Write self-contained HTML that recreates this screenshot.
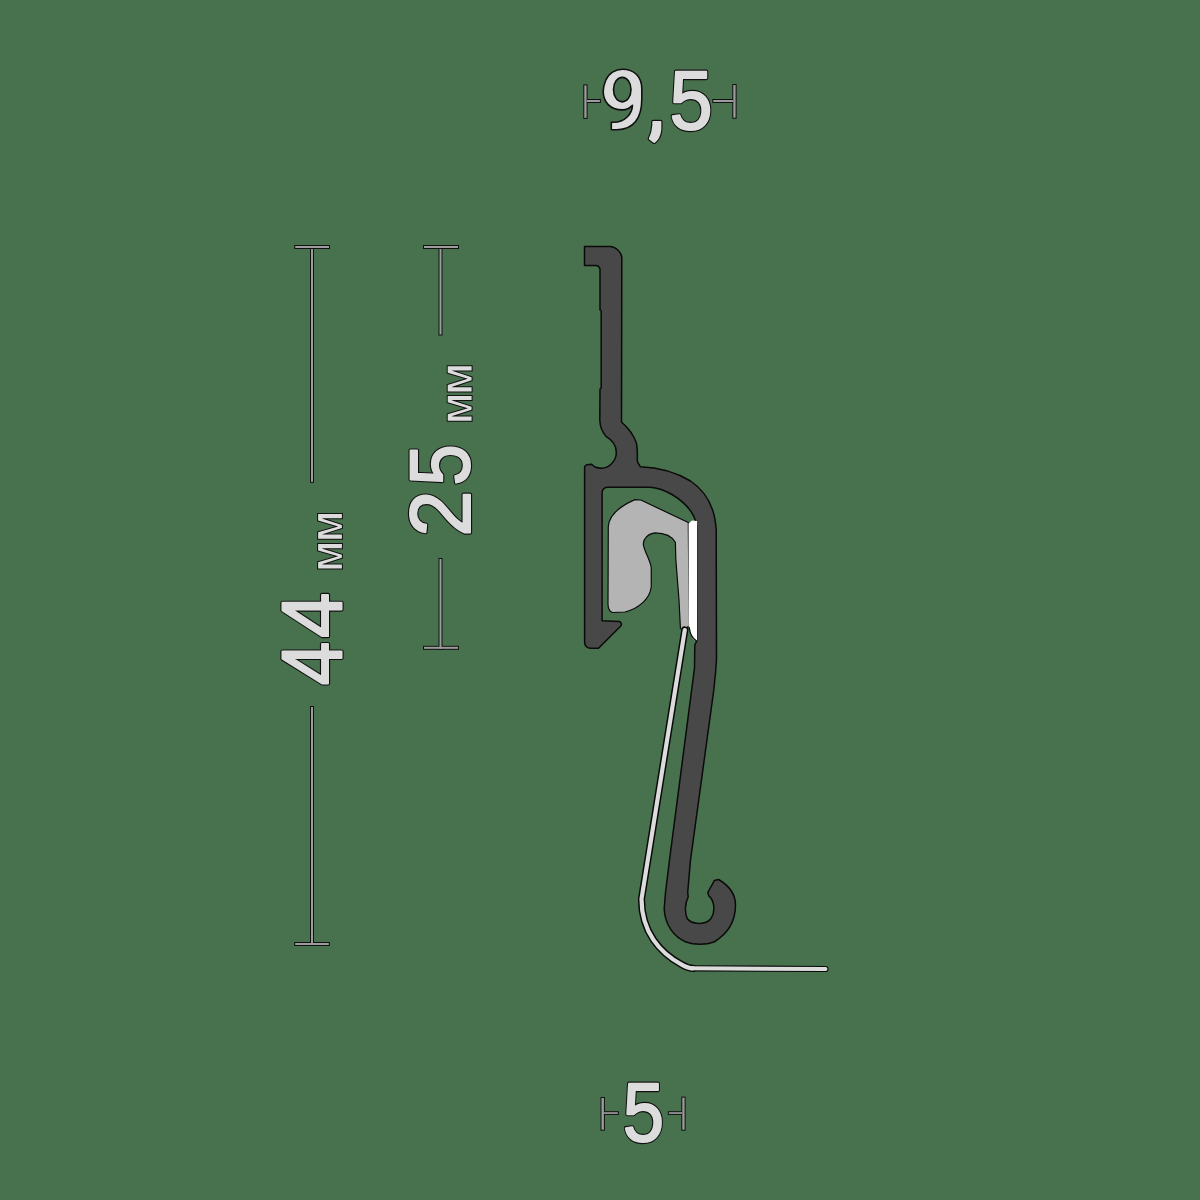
<!DOCTYPE html>
<html><head><meta charset="utf-8">
<style>
html,body{margin:0;padding:0;background:#48724e;}
svg{display:block;will-change:transform;}
text{font-family:"Liberation Sans",sans-serif;}
#txt text, #txt path{fill:#dcdcdc;stroke:#dcdcdc;stroke-width:2px;stroke-linejoin:round;}
#txtb text, #txtb path{fill:#111;stroke:#111;stroke-width:4.3px;stroke-linejoin:round;}
</style></head><body>
<svg width="1200" height="1200" viewBox="0 0 1200 1200">
<rect width="1200" height="1200" fill="#48724e"/>
<!-- dims -->
<g fill="#111">
<rect x="294.25" y="245" width="35.75" height="4.00"/>
<rect x="310" y="248" width="4.00" height="234.80"/>
<rect x="310" y="706" width="4.00" height="240.00"/>
<rect x="294.25" y="942" width="35.50" height="4.00"/>
<rect x="423" y="245" width="36.00" height="4.00"/>
<rect x="438.5" y="248" width="4.00" height="87.50"/>
<rect x="438.5" y="558" width="4.00" height="92.00"/>
<rect x="423" y="645.8" width="36.00" height="4.00"/>
<rect x="583.3" y="84.4" width="4.30" height="34.50"/>
<rect x="586" y="99" width="14.90" height="4.00"/>
<rect x="712.3" y="99" width="21.70" height="4.00"/>
<rect x="732.3" y="84" width="4.30" height="34.75"/>
<rect x="600.5" y="1097" width="4.40" height="33.70"/>
<rect x="603" y="1111.2" width="15.90" height="3.70"/>
<rect x="667.9" y="1111.2" width="15.10" height="3.70"/>
<rect x="681.3" y="1096.6" width="4.30" height="34.10"/>
</g>
<g fill="#9c9c9c">
<rect x="295.25" y="246" width="33.75" height="2.00"/>
<rect x="311" y="249" width="2.00" height="232.80"/>
<rect x="311" y="707" width="2.00" height="238.00"/>
<rect x="295.25" y="943" width="33.50" height="2.00"/>
<rect x="424" y="246" width="34.00" height="2.00"/>
<rect x="439.5" y="249" width="2.00" height="85.50"/>
<rect x="439.5" y="559" width="2.00" height="90.00"/>
<rect x="424" y="646.8" width="34.00" height="2.00"/>
<rect x="584.3" y="85.4" width="2.30" height="32.50"/>
<rect x="587" y="100" width="12.90" height="2.00"/>
<rect x="713.3" y="100" width="19.70" height="2.00"/>
<rect x="733.3" y="85" width="2.30" height="32.75"/>
<rect x="601.5" y="1098" width="2.40" height="31.70"/>
<rect x="604" y="1112.2" width="13.90" height="1.70"/>
<rect x="668.9" y="1112.2" width="13.10" height="1.70"/>
<rect x="682.3" y="1097.6" width="2.30" height="32.10"/>
</g>
<!-- texts -->
<g id="txtb">
<text transform="translate(669.60,128.65) scale(0.934,1)" font-size="83.07">5</text>
<text transform="translate(622.82,1141.15) scale(0.899,1)" font-size="82.78">5</text>
<text transform="translate(340.50,685.31) rotate(-90) scale(0.928,1)" font-size="84.59">4</text>
<text transform="translate(340.50,637.88) rotate(-90) scale(0.968,1)" font-size="84.59">4</text>
<text transform="translate(469.43,485.69) rotate(-90) scale(0.875,1)" font-size="85.51">5</text>
<text transform="translate(470.20,536.86) rotate(-90) scale(0.976,1)" font-size="85.39">2</text>
<path d="M653.3,122 L660.4,122 L660.3,130 Q659.3,138.5 654.2,142 L649.8,138.8 Q653,132.5 653.3,125 Z"/>
</g>
<g id="txt">
<text transform="translate(669.60,128.65) scale(0.934,1)" font-size="83.07">5</text>
<text transform="translate(622.82,1141.15) scale(0.899,1)" font-size="82.78">5</text>
<text transform="translate(340.50,685.31) rotate(-90) scale(0.928,1)" font-size="84.59">4</text>
<text transform="translate(340.50,637.88) rotate(-90) scale(0.968,1)" font-size="84.59">4</text>
<text transform="translate(469.43,485.69) rotate(-90) scale(0.875,1)" font-size="85.51">5</text>
<text transform="translate(470.20,536.86) rotate(-90) scale(0.976,1)" font-size="85.39">2</text>
<path d="M653.3,122 L660.4,122 L660.3,130 Q659.3,138.5 654.2,142 L649.8,138.8 Q653,132.5 653.3,125 Z"/>
</g>
<!-- mm -->
<g stroke="none">
<path fill="#111" d="M342.90,539.80 L317.10,539.80 L317.10,531.60 L334.70,526.45 L317.10,521.30 L317.10,513.10 L342.90,513.10 L342.90,519.30 L327.40,519.30 L342.90,524.25 L342.90,528.65 L327.40,533.60 L342.90,533.60 Z M342.90,569.60 L317.10,569.60 L317.10,561.40 L334.70,556.30 L317.10,551.20 L317.10,543.00 L342.90,543.00 L342.90,549.20 L327.40,549.20 L342.90,554.10 L342.90,558.50 L327.40,563.40 L342.90,563.40 Z M472.60,392.40 L446.70,392.40 L446.70,384.20 L464.40,378.80 L446.70,373.40 L446.70,365.20 L472.60,365.20 L472.60,371.40 L457.10,371.40 L472.60,376.60 L472.60,381.00 L457.10,386.20 L472.60,386.20 Z M472.60,421.70 L446.70,421.70 L446.70,413.50 L464.40,408.30 L446.70,403.10 L446.70,394.90 L472.60,394.90 L472.60,401.10 L457.10,401.10 L472.60,406.10 L472.60,410.50 L457.10,415.50 L472.60,415.50 Z"/>
<path fill="#dcdcdc" d="M341.90,538.80 L341.90,534.60 L322.50,534.60 L322.42,534.14 L341.90,527.92 L341.90,524.98 L322.42,518.76 L322.50,518.30 L341.90,518.30 L341.90,514.10 L318.10,514.10 L318.10,520.55 L338.26,526.45 L318.10,532.35 L318.10,538.80 Z M341.90,568.60 L341.90,564.40 L322.50,564.40 L322.42,563.92 L341.90,557.77 L341.90,554.83 L322.42,548.68 L322.50,548.20 L341.90,548.20 L341.90,544.00 L318.10,544.00 L318.10,550.45 L338.29,556.30 L318.10,562.15 L318.10,568.60 Z M471.60,391.40 L471.60,387.20 L452.20,387.20 L452.13,386.81 L471.60,380.28 L471.60,377.32 L452.13,370.79 L452.20,370.40 L471.60,370.40 L471.60,366.20 L447.70,366.20 L447.70,372.66 L467.83,378.80 L447.70,384.94 L447.70,391.40 Z M471.60,420.70 L471.60,416.50 L452.20,416.50 L452.13,416.05 L471.60,409.77 L471.60,406.83 L452.13,400.55 L452.20,400.10 L471.60,400.10 L471.60,395.90 L447.70,395.90 L447.70,402.35 L467.95,408.30 L447.70,414.25 L447.70,420.70 Z"/>
</g>
<path id="nine" fill="#dcdcdc" stroke="#111" stroke-width="1.6" stroke-linejoin="round" fill-rule="evenodd" d="M622.5,69.2 C615.5,69.2 608.5,73.2 605.8,80.3 C603.8,85 603.2,89 603.2,91 C603.2,101.5 609.5,109.9 622.5,109.9 C627,109.9 630,108 632.5,105.4 C632,114.5 624.5,122.3 613.8,122.3 L611.3,122.3 L611.3,129.7 L617,129.7 C633.5,129.7 641.8,118.2 641.8,99 L641.8,89 C641.8,76.8 634.3,69.2 622.5,69.2 Z M622.25,77.35 C627,77.35 631,82.5 631,89.6 C631,96.7 627,101.85 622.25,101.85 C617.5,101.85 613.5,96.7 613.5,89.6 C613.5,82.5 617.5,77.35 622.25,77.35 Z"/>
<!-- profile -->
<path fill="#484848" stroke="#0a0a0a" stroke-width="1.5" stroke-linejoin="round" d="
M584.5,246.5 L610,246.5 C615,246.5 621.8,252 621.8,258 L621.5,422
C626,426 633,433 636.3,442.7 C638,450 637,458 637.5,462 L640.3,466.7
C656,467.3 674,471 690.5,481 C705.5,491 715,507 716.2,530
L716.5,659 L715.6,672 L713.8,690 L704.2,760 L690.5,860 L687.7,892.5 L688.2,896.8
C685,903 684.5,913 687.2,918.5 C691,924 705,926 711,918.5 C716,911 714,900 708.8,895.8 L707.8,892.5 L714.3,880.6 L718.6,879.5
C728,885 735.5,894 735.5,905 C735.5,920 729,933 714,942 C706,945 694,945 686,942 C674,937 665,925 664.2,909 L665.5,892.5 L669.5,860 L694.5,668 L694.8,645 L696.7,641
L696.6,526 C695,514 686,503 672,494.5 C665,490.5 658,488 650,487.3 L607,487.2 Q602.2,488 602.1,493 L602.1,620.8
L619.5,621.5 Q622.5,623 620.8,626 L598.5,648.2 L591,648.3 Q584.6,648 584.6,641.7 L584.6,467
Q585.2,464.2 591.7,464.2 L595,467 Q598,468.3 602,468.2 C608,468 616,462 616.3,453.3 C616.5,446 612,440 606.3,436.7 C603,433 600,428 599.8,420
L600,389 L601.2,388 L601.2,311 L600,310 L600,269 Q599,265.6 596,265.6 L584.5,265.6 Z"/>
<!-- white strip -->
<!-- insert -->
<path fill="#b4b4b4" stroke="#0a0a0a" stroke-width="1.2" stroke-linejoin="round" d="
M608,604 L608.3,526.7 C609,516 618,507 635,499.6 L640.8,500 L688.3,522.5 L689.2,625.7 L682.8,631 L680.4,628 L679,600 L675.8,559 L675.4,542.5
C672,536 664,533 655,532.9 C648,533.5 643,539 643.3,544.2 C644,551 650,559 651.25,567.5 L651.25,586.7 C650,598 640,608 625,612 L612.5,612.5 Q608,611 608,604 Z"/>
<!-- white strip -->
<path fill="#ffffff" d="M688.6,523.6 L692,520.5 L697,521 L697,640.5 L694,640.3 Q690,636 688.6,626 Z"/>
<path fill="none" stroke="#0a0a0a" stroke-width="1.4" d="M689.1,627 Q690.3,637.5 696.6,641"/>
<!-- thin film line -->
<path fill="none" stroke="#0a0a0a" stroke-width="7.2" stroke-linecap="round" stroke-linejoin="round" d="M684.8,630 L641.5,899 C641.5,932 660,953 681.7,964.6 C685,966.5 689,968.2 693,968.3"/>
<path fill="none" stroke="#0a0a0a" stroke-width="6.2" stroke-linecap="round" d="M691,968.3 L825.5,969"/>
<path fill="none" stroke="#dcdcdc" stroke-width="4.2" stroke-linecap="round" stroke-linejoin="round" d="M684.8,630 L641.5,899 C641.5,932 660,953 681.7,964.6 C685,966.5 689,968.2 693,968.3"/>
<path fill="none" stroke="#dcdcdc" stroke-width="4.0" stroke-linecap="round" d="M691,968.3 L825.5,969"/>
</svg>
</body></html>
